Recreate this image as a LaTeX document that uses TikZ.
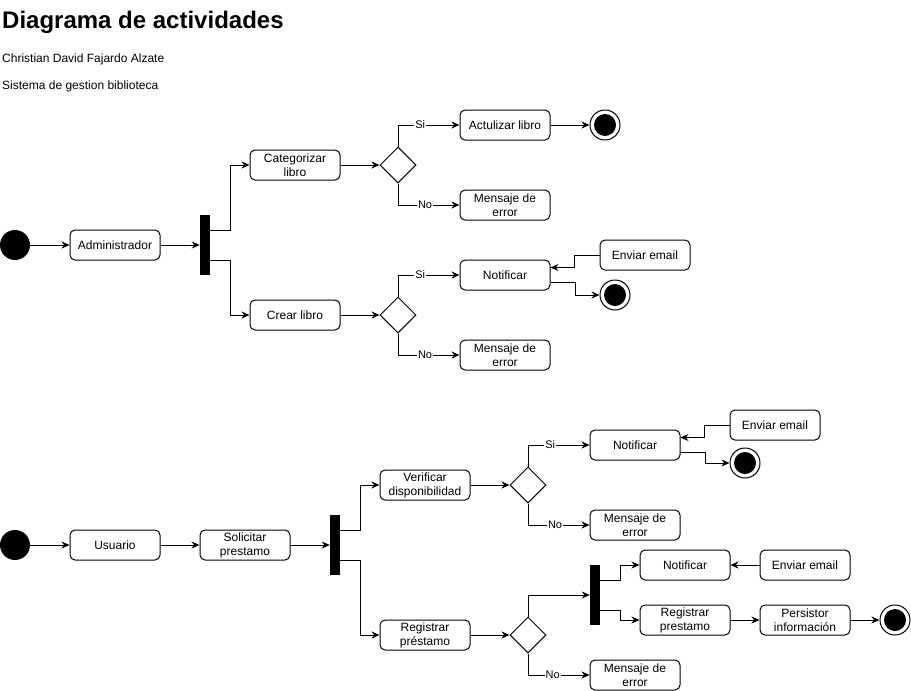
\documentclass[tikz,border=0pt]{standalone}
\usepackage{fontspec}
\setmainfont{Liberation Sans}
\usetikzlibrary{shapes.geometric,arrows.meta,calc}
\begin{document}
\begin{tikzpicture}[x=1pt,y=-1pt,
  act/.style={draw,line width=1pt,rounded corners=5pt,minimum width=90pt,minimum height=30pt,inner sep=0pt,align=center,font=\fontsize{12}{14}\selectfont},
  startn/.style={circle,fill=black,minimum size=30pt,inner sep=0pt},
  endn/.style={circle,draw,line width=1pt,minimum size=30pt,inner sep=0pt,path picture={\fill (path picture bounding box.center) circle (11pt);}},
  barn/.style={fill=black,minimum width=10pt,minimum height=60pt,inner sep=0pt},
  dec/.style={diamond,draw,line width=1pt,minimum width=36pt,minimum height=36pt,inner sep=0pt},
  arr/.style={-{Stealth[length=8pt,width=7pt]},line width=1pt},
  lbl/.style={fill=white,inner sep=1pt,font=\fontsize{11}{13}\selectfont},
  txt/.style={anchor=base west,inner sep=0pt,font=\fontsize{12}{14}\selectfont}
]
\useasboundingbox (0,0) rectangle (911,691);

% titles
\node[anchor=base west,inner sep=0pt,font=\fontsize{24}{28}\selectfont\bfseries] (title) at (2,28) {Diagrama de actividades};
\node[txt] (author) at (2,62) {Christian David Fajardo Alzate};
\node[txt] (system) at (2,89) {Sistema de gestion biblioteca};

% ---------- upper diagram ----------
\node[startn] (s1) at (15,245) {};
\node[act] (adm) at (115,245) {Administrador};
\node[barn] (b1) at (205,245) {};
\node[act] (cat) at (295,165) {Categorizar\\libro};
\node[act] (crear) at (295,315) {Crear libro};
\node[dec] (d1) at (398,165) {};
\node[dec] (d2) at (398,315) {};
\node[act] (actu) at (505,125) {Actulizar libro};
\node[endn] (e1) at (605,125) {};
\node[act] (m1) at (505,205) {Mensaje de\\error};
\node[act] (n1) at (505,275) {Notificar};
\node[act] (em1) at (645,255) {Enviar email};
\node[endn] (e2) at (615,295) {};
\node[act] (m2) at (505,355) {Mensaje de\\error};

\draw[arr] (s1) -- (adm);
\draw[arr] (adm) -- (b1);
\draw[arr] ([yshift=15pt]b1.east) -- ++(20,0) |- (cat.west);
\draw[arr] ([yshift=-15pt]b1.east) -- ++(20,0) |- (crear.west);
\draw[arr] (cat) -- (d1);
\draw[arr] (crear) -- (d2);
\draw[arr] (d1.north) |- node[lbl,pos=0.68] {Si} (actu.west);
\draw[arr] (d1.south) |- node[lbl,pos=0.72] {No} (m1.west);
\draw[arr] (actu) -- (e1);
\draw[arr] (d2.north) |- node[lbl,pos=0.68] {Si} (n1.west);
\draw[arr] (d2.south) |- node[lbl,pos=0.72] {No} (m2.west);
\draw[arr] (em1.west) -- ++(-25,0) |- ([yshift=7.5pt]n1.east);
\draw[arr] ([yshift=-7.5pt]n1.east) -- ++(25,0) |- (e2.west);

% ---------- lower diagram ----------
\node[startn] (s2) at (15,545) {};
\node[act] (usu) at (115,545) {Usuario};
\node[act] (sol) at (245,545) {Solicitar\\prestamo};
\node[barn] (b2) at (335,545) {};
\node[act] (ver) at (425,485) {Verificar\\disponibilidad};
\node[act] (reg1) at (425,635) {Registrar\\préstamo};
\node[dec] (d3) at (528,485) {};
\node[dec] (d4) at (528,635) {};
\node[act] (n3) at (635,445) {Notificar};
\node[act] (m3) at (635,525) {Mensaje de\\error};
\node[act] (em3) at (775,425) {Enviar email};
\node[endn] (e3) at (745,463) {};
\node[barn] (b3) at (595,595) {};
\node[act] (n4) at (685,565) {Notificar};
\node[act] (em4) at (805,565) {Enviar email};
\node[act] (reg2) at (685,620) {Registrar\\prestamo};
\node[act] (pers) at (805,620) {Persistor\\información};
\node[endn] (e4) at (895,620) {};
\node[act] (m4) at (635,675) {Mensaje de\\error};

\draw[arr] (s2) -- (usu);
\draw[arr] (usu) -- (sol);
\draw[arr] (sol) -- (b2);
\draw[arr] ([yshift=15pt]b2.east) -- ++(20,0) |- (ver.west);
\draw[arr] ([yshift=-15pt]b2.east) -- ++(20,0) |- (reg1.west);
\draw[arr] (ver) -- (d3);
\draw[arr] (reg1) -- (d4);
\draw[arr] (d3.north) |- node[lbl,pos=0.68] {Si} (n3.west);
\draw[arr] (d3.south) |- node[lbl,pos=0.72] {No} (m3.west);
\draw[arr] (em3.west) -- ++(-25,0) |- ([yshift=7.5pt]n3.east);
\draw[arr] ([yshift=-7.5pt]n3.east) -- ++(25,0) |- (e3.west);
\draw[arr] (d4.north) |- (b3.west);
\draw[arr] (d4.south) |- node[lbl,pos=0.70] {No} (m4.west);
\draw[arr] ([yshift=15pt]b3.east) -- ++(20,0) |- (n4.west);
\draw[arr] ([yshift=-15pt]b3.east) -- ++(20,0) |- (reg2.west);
\draw[arr] (em4) -- (n4);
\draw[arr] (reg2) -- (pers);
\draw[arr] (pers) -- (e4);
\end{tikzpicture}
\end{document}
